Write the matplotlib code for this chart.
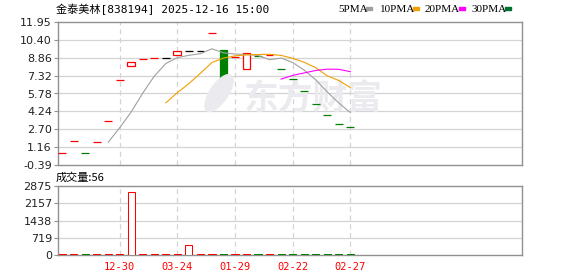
import numpy as np
import pandas as pd
import matplotlib
matplotlib.use('Agg')
import matplotlib.pyplot as plt
from matplotlib.patches import Rectangle, Ellipse

# ---- data ----
opens = [0.62, 1.65, 0.62, 1.57, 3.41, 6.92, 8.13, 8.73, 8.87, 8.87,
         9.08, 9.45, 9.45, 10.97, 9.53, 8.93, 7.92, 9.02, 9.13, 7.87,
         7.01, 5.97, 4.85, 3.90, 3.12, 2.86]
closes = [0.62, 1.65, 0.62, 1.57, 3.41, 6.92, 8.47, 8.73, 8.87, 8.87,
          9.45, 9.45, 9.45, 10.97, 7.14, 8.93, 9.25, 9.02, 9.13, 7.87,
          7.01, 5.97, 4.85, 3.90, 3.12, 2.86]
volumes = [46, 50, 45, 48, 50, 52, 2640, 50, 46, 45, 48, 430, 45,
           50, 52, 48, 50, 45, 46, 50, 48, 50, 52, 50, 54, 56]

tick_pos = [5, 10, 15, 20, 25]
tick_labels = ['12-30', '03-24', '01-29', '02-22', '02-27']
price_ticks = [-0.39, 1.16, 2.70, 4.24, 5.78, 7.32, 8.86, 10.40, 11.95]
vol_ticks = [0, 719, 1438, 2157, 2875]

title = '金泰美林[838194] 2025-12-16 15:00'
ma_names = ['5PMA', '10PMA', '20PMA', '30PMA']
ma_windows = [5, 10, 20, 30]
ma_colors = ['#a0a0a0', '#f0a000', '#ff00ff', '#007030']

RED = '#ff0000'
GREEN = '#008000'
GRID = '#d4d4d4'
SPINE = '#909090'
WATER = '#ebebef'

W, H = 578, 276
fig = plt.figure(figsize=(W / 100, H / 100), dpi=100)


def fx(px):
    return px / W


def fy(py):
    return 1 - py / H


ax = fig.add_axes([fx(57.5), fy(165), fx(522) - fx(57.5), fy(22) - fy(165)])
axv = fig.add_axes([fx(57.5), fy(255.3), fx(522) - fx(57.5), fy(186) - fy(255.3)])

x = np.arange(len(closes))

# candle colours: body direction, or vs previous close for flat days
colors = []
for i, (o, c) in enumerate(zip(opens, closes)):
    if c > o:
        colors.append(RED)
    elif c < o:
        colors.append(GREEN)
    else:
        prev = closes[i - 1] if i > 0 else o - 1
        colors.append(RED if c > prev else GREEN if c < prev else 'black')

for xi, o, c, col in zip(x, opens, closes, colors):
    lo, hi = min(o, c), max(o, c)
    face = 'white' if (c > o) else col
    ax.bar(xi, hi - lo, bottom=lo, width=0.68, facecolor=face,
           edgecolor=col, linewidth=0.9, zorder=3)

s = pd.Series(closes)
for name, win, col in zip(ma_names, ma_windows, ma_colors):
    ma = s.rolling(win).mean()
    ax.plot(x, ma, color=col, linewidth=0.8, zorder=4)

# watermark (logo + text)
fig.add_artist(Ellipse((fx(219), fy(93)), fx(20), 38 / H, angle=-15,
                       transform=fig.transFigure, color=WATER, zorder=0.5))
ax.text(0.55, 0.47, '东方财富', transform=ax.transAxes, fontsize=25,
        family=['Noto Sans CJK SC'], fontweight='bold', color=WATER,
        ha='center', va='center', zorder=1)

# volume
for xi, v, col in zip(x, volumes, colors):
    vcol = GREEN if col == GREEN else RED
    face = 'white' if vcol == RED else GREEN
    axv.bar(xi, v, width=0.62, facecolor=face, edgecolor=vcol,
            linewidth=0.75, zorder=3)

for a in (ax, axv):
    a.set_xlim(-0.4, 39.9)
    for p in tick_pos:
        a.axvline(p, color=GRID, linestyle=(0, (4, 3)), linewidth=0.9, zorder=0)
    for sp in a.spines.values():
        sp.set_color(SPINE)
        sp.set_linewidth(1)
        sp.set_zorder(2)
    a.tick_params(axis='y', length=3, width=0.8, color=SPINE, pad=1,
                  labelsize=8, labelcolor='#222222')

ax.set_ylim(price_ticks[0], price_ticks[-1])
ax.set_yticks(price_ticks)
ax.set_yticklabels([f'{t:.2f}' for t in price_ticks])
for t in price_ticks[1:-1]:
    ax.axhline(t, color=GRID, linewidth=0.9, zorder=0)
ax.set_xticks([])
ax.patch.set_alpha(0)

axv.set_ylim(0, vol_ticks[-1])
axv.set_yticks(vol_ticks)
for t in vol_ticks[1:-1]:
    axv.axhline(t, color=GRID, linewidth=0.9, zorder=0)
axv.set_xticks(tick_pos)
axv.set_xticklabels(tick_labels, family='DejaVu Sans Mono', fontsize=7.5,
                    color=RED)
axv.tick_params(axis='x', length=0, pad=5)

# header texts
fig.text(fx(56), fy(9), title, fontsize=8,
         family=['DejaVu Sans Mono', 'Noto Sans CJK SC'],
         ha='left', va='center', color='black')
fig.text(fx(56), fy(178), '成交量:56', fontsize=8,
         family=['Noto Sans CJK SC', 'DejaVu Sans'],
         ha='left', va='center', color='black')

legend_x = [338, 380, 425, 472]
for lx, name in zip(legend_x, ma_names):
    fig.text(fx(lx), fy(9), name, fontsize=8, family='Liberation Serif',
             ha='left', va='center', color='black')
sq_x = [366, 413, 459, 505]
for sx, col in zip(sq_x, ma_colors):
    fig.add_artist(Rectangle((fx(sx), fy(10)), fx(6), 3 / H,
                             transform=fig.transFigure, color=col))

fig.savefig('out.png', dpi=100)
